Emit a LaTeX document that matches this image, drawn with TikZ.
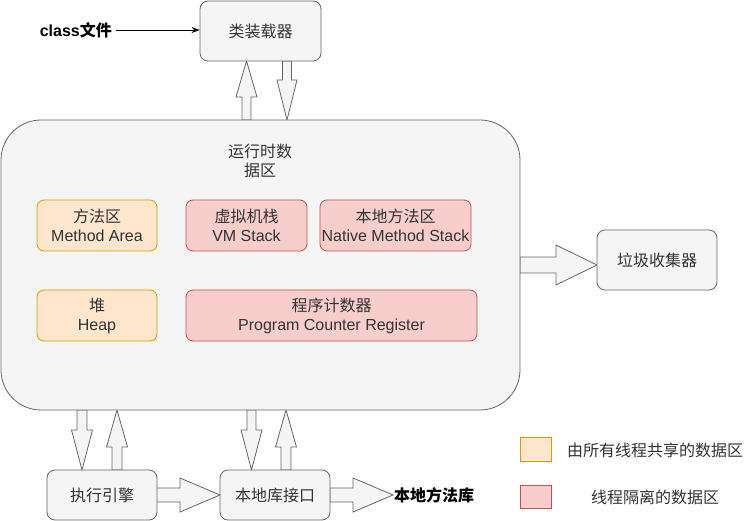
\documentclass[tikz,border=0pt]{standalone}
\usepackage{fontspec}
\setmainfont{Liberation Sans}
\newfontfamily\cjk{Noto Sans CJK SC}
\usetikzlibrary{arrows.meta}
\definecolor{gfill}{HTML}{F5F5F5}
\definecolor{gdraw}{HTML}{666666}
\definecolor{gtext}{HTML}{333333}
\definecolor{ofill}{HTML}{FFE6CC}
\definecolor{odraw}{HTML}{D79B00}
\definecolor{rfill}{HTML}{F8CECC}
\definecolor{rdraw}{HTML}{B85450}
\tikzset{
  base/.style={font=\fontsize{16}{19}\selectfont, align=center, inner sep=0pt},
  graybox/.style={base, draw=gdraw, fill=gfill, text=gtext, rounded corners=8, line width=0.8pt},
  orangebox/.style={base, draw=odraw, fill=ofill, text=gtext, rounded corners=7, line width=0.8pt},
  redbox/.style={base, draw=rdraw, fill=rfill, text=gtext, rounded corners=7, line width=0.8pt},
  blk/.style={draw=gdraw, fill=gfill, line width=0.8pt, line join=miter},
  lbl/.style={base, text=gtext},
}
\newcommand\varr[6]{\draw[blk] ({#1-#5},#2) -- ({#1-#5},#4) -- ({#1-#6},#4) -- (#1,#3) -- ({#1+#6},#4) -- ({#1+#5},#4) -- ({#1+#5},#2) -- cycle;}
\newcommand\harr[6]{\draw[blk] (#2,{#1-#5}) -- (#4,{#1-#5}) -- (#4,{#1-#6}) -- (#3,#1) -- (#4,{#1+#6}) -- (#4,{#1+#5}) -- (#2,{#1+#5}) -- cycle;}
\begin{document}
\begin{tikzpicture}[x=1pt,y=-1pt]
\useasboundingbox (0,0) rectangle (747,521);
% block arrows (drawn first)
\varr{246.5}{120}{61}{97}{4.5}{10.5}
\varr{287}{61}{120}{80}{4.5}{10}
\varr{82}{410}{470}{430}{5}{10.5}
\varr{117}{470}{410}{447}{5}{10.5}
\varr{251.5}{410}{470}{430}{4.5}{10.5}
\varr{286}{470}{410}{447}{5}{10.5}
\harr{265}{520}{597}{556}{8}{20}
\harr{495}{156}{220}{180}{7}{17}
\harr{495}{330}{393}{353}{7}{17}
% boxes
\node[graybox, minimum width=121, minimum height=60] (loader) at (260.5,31) {\cjk 类装载器};
\node[graybox, rounded corners=40, minimum width=519, minimum height=290] (rt) at (260.5,265) {};
\node[lbl] (rtl) at (260,161) {\cjk 运行时数\\\cjk 据区};
\node[orangebox, minimum width=120, minimum height=51] (ma) at (97,225.5) {\cjk 方法区\\Method Area};
\node[redbox, minimum width=121, minimum height=51] (vm) at (246.5,225.5) {\cjk 虚拟机栈\\VM Stack};
\node[redbox, minimum width=151, minimum height=51] (nms) at (395.5,225.5) {\cjk 本地方法区\\Native Method Stack};
\node[orangebox, minimum width=120, minimum height=51] (heap) at (97,315.5) {\cjk 堆\\Heap};
\node[redbox, minimum width=291, minimum height=51] (pc) at (331.5,315.5) {\cjk 程序计数器\\Program Counter Register};
\node[graybox, minimum width=120, minimum height=60] (gc) at (657,260) {\cjk 垃圾收集器};
\node[graybox, minimum width=110, minimum height=50] (exec) at (102,495) {\cjk 执行引擎};
\node[graybox, minimum width=110, minimum height=50] (nli) at (275,495) {\cjk 本地库接口};
\node[base, anchor=west] (nml) at (394,495) {\cjk\bfseries 本地方法库};
\node[base, anchor=east, inner xsep=4pt] (cls) at (116,30) {\bfseries class\cjk 文件};
\draw[-{Stealth[length=8pt,width=6pt]}, line width=0.8pt] (cls.east) -- (loader.west |- cls.east);
% legend
\node[orangebox, rounded corners=0, minimum width=31, minimum height=24] (lg1) at (535.5,449) {};
\node[lbl, anchor=west] (lg1t) at (567,450) {\cjk 由所有线程共享的数据区};
\node[redbox, rounded corners=0, minimum width=31, minimum height=23] (lg2) at (535.5,496.5) {};
\node[lbl, anchor=west] (lg2t) at (591,497) {\cjk 线程隔离的数据区};
\end{tikzpicture}
\end{document}
